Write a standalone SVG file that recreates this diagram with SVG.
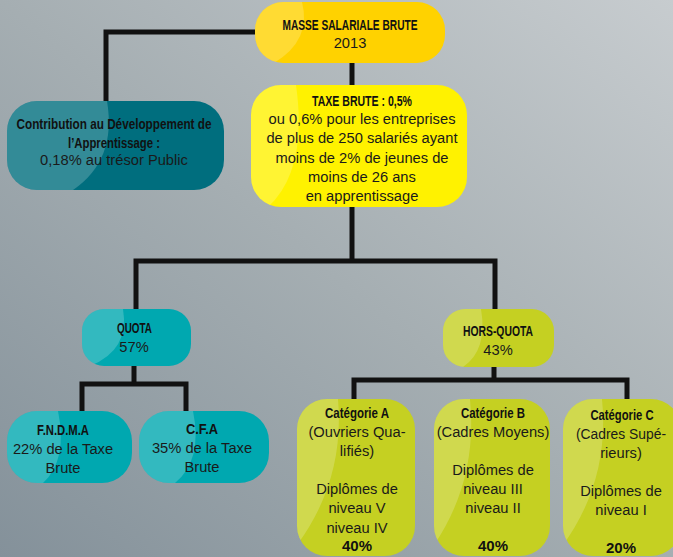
<svg xmlns="http://www.w3.org/2000/svg" width="673" height="557" viewBox="0 0 673 557">
<defs>
<linearGradient id="bg" x1="1" y1="0" x2="0" y2="1">
<stop offset="0" stop-color="#c7cccf"/>
<stop offset="0.5" stop-color="#a5aeb2"/>
<stop offset="1" stop-color="#84919a"/>
</linearGradient>
<clipPath id="cMasse"><rect x="255" y="2" width="190" height="61" rx="28"/></clipPath>
<clipPath id="cTaxe"><rect x="251" y="85" width="216" height="122" rx="30"/></clipPath>
<clipPath id="cCda"><rect x="7" y="101" width="217" height="89" rx="30"/></clipPath>
<clipPath id="cQuota"><rect x="82" y="309" width="109" height="57" rx="22"/></clipPath>
<clipPath id="cHors"><rect x="443" y="309" width="111" height="58" rx="22"/></clipPath>
<clipPath id="cFnd"><rect x="7" y="411" width="125" height="72" rx="30"/></clipPath>
<clipPath id="cCfa"><rect x="139" y="411" width="130" height="72" rx="30"/></clipPath>
<clipPath id="cA"><rect x="297" y="399" width="118" height="157" rx="30"/></clipPath>
<clipPath id="cB"><rect x="434" y="399" width="116" height="157" rx="30"/></clipPath>
<clipPath id="cC"><rect x="563" y="399" width="118" height="157" rx="30"/></clipPath>
</defs>
<style>
.t{font-family:"Liberation Sans",Arial,sans-serif;font-size:14.7px;fill:#1a1a1a;text-anchor:middle}
.b{font-family:"Liberation Sans",Arial,sans-serif;font-size:15px;font-weight:bold;fill:#111;text-anchor:middle}
.hl{fill:#ffffff;fill-opacity:0.2}
.yo{fill:#ffd200}
.ye{fill:#fff200}
.dt{fill:#006e7e}
.tl{fill:#00a8b0}
.lm{fill:#c5d022}
.ln{fill:none;stroke:#111;stroke-width:5;stroke-linejoin:miter;stroke-linecap:butt}
</style>
<rect x="0" y="0" width="673" height="557" fill="url(#bg)"/>

<g id="connectors">
<path class="ln" d="M257,32 H106 V103"/>
<path class="ln" d="M352,61 V87"/>
<path class="ln" d="M352,205 V261"/>
<path class="ln" d="M136,311 V261 H495 V311"/>
<path class="ln" d="M134,364 V384"/>
<path class="ln" d="M82,413 V384 H186 V413"/>
<path class="ln" d="M494,365 V380"/>
<path class="ln" d="M354,401 V380 H627 V401"/>
</g>

<g id="masse">
<rect class="yo" x="255" y="2" width="190" height="61" rx="28"/>
<path class="hl" clip-path="url(#cMasse)" d="M255,2 H302 Q312,40 274,63 H255 Z"/>
<text class="b" x="350" y="29.5" textLength="135" lengthAdjust="spacingAndGlyphs">MASSE SALARIALE BRUTE</text>
<text class="t" x="350" y="48">2013</text>
</g>

<g id="taxe">
<rect class="ye" x="251" y="85" width="216" height="122" rx="30"/>
<path class="hl" clip-path="url(#cTaxe)" d="M251,85 H296 Q308,170 268,207 H251 Z"/>
<text class="b" x="362" y="105.5" textLength="100" lengthAdjust="spacingAndGlyphs">TAXE BRUTE : 0,5%</text>
<text class="t" x="362" y="124">ou 0,6% pour les entreprises</text>
<text class="t" x="362" y="143">de plus de 250 salariés ayant</text>
<text class="t" x="362" y="162.5">moins de 2% de jeunes de</text>
<text class="t" x="362" y="182">moins de 26 ans</text>
<text class="t" x="362" y="201">en apprentissage</text>
</g>

<g id="contribution">
<rect class="dt" x="7" y="101" width="217" height="89" rx="30"/>
<path class="hl" clip-path="url(#cCda)" d="M7,101 H107 Q117,160 73,190 H7 Z"/>
<text class="b" x="114" y="128.5" textLength="195" lengthAdjust="spacingAndGlyphs">Contribution au Développement de</text>
<text class="b" x="114" y="147.5" textLength="92" lengthAdjust="spacingAndGlyphs">l’Apprentissage :</text>
<text class="t" x="114" y="165">0,18% au trésor Public</text>
</g>

<g id="quota">
<rect class="tl" x="82" y="309" width="109" height="57" rx="22"/>
<path class="hl" clip-path="url(#cQuota)" d="M82,309 H123 Q130,350 90,366 H82 Z"/>
<text class="b" x="134.5" y="332.5" textLength="35" lengthAdjust="spacingAndGlyphs">QUOTA</text>
<text class="t" x="134" y="352">57%</text>
</g>

<g id="hors-quota">
<rect class="lm" x="443" y="309" width="111" height="58" rx="22"/>
<path class="hl" clip-path="url(#cHors)" d="M443,309 H481 Q488,350 463,367 H443 Z"/>
<text class="b" x="498" y="335.5" textLength="70" lengthAdjust="spacingAndGlyphs">HORS-QUOTA</text>
<text class="t" x="498" y="355">43%</text>
</g>

<g id="fndma">
<rect class="tl" x="7" y="411" width="125" height="72" rx="30"/>
<path class="hl" clip-path="url(#cFnd)" d="M7,411 H58 Q68,460 43,483 H7 Z"/>
<text class="b" x="63" y="434.5" textLength="52" lengthAdjust="spacingAndGlyphs">F.N.D.M.A</text>
<text class="t" x="63" y="454">22% de la Taxe</text>
<text class="t" x="63" y="472.5">Brute</text>
</g>

<g id="cfa">
<rect class="tl" x="139" y="411" width="130" height="72" rx="30"/>
<path class="hl" clip-path="url(#cCfa)" d="M139,411 H193 Q203,460 175,483 H139 Z"/>
<text class="b" x="202" y="433.5" textLength="32" lengthAdjust="spacingAndGlyphs">C.F.A</text>
<text class="t" x="202" y="453">35% de la Taxe</text>
<text class="t" x="202" y="471.5">Brute</text>
</g>

<g id="categorie-a">
<rect class="lm" x="297" y="399" width="118" height="157" rx="30"/>
<path class="hl" clip-path="url(#cA)" d="M297,399 H338 Q345,480 297,545 Z"/>
<text class="b" x="357" y="418" textLength="64" lengthAdjust="spacingAndGlyphs">Catégorie A</text>
<text class="t" x="357" y="437">(Ouvriers Qua-</text>
<text class="t" x="357" y="456">lifiés)</text>
<text class="t" x="357" y="494">Diplômes de</text>
<text class="t" x="357" y="513">niveau V</text>
<text class="t" x="357" y="532.5">niveau IV</text>
<text class="b" x="357" y="551">40%</text>
</g>

<g id="categorie-b">
<rect class="lm" x="434" y="399" width="116" height="157" rx="30"/>
<path class="hl" clip-path="url(#cB)" d="M434,399 H470 Q478,480 434,545 Z"/>
<text class="b" x="493" y="418" textLength="64" lengthAdjust="spacingAndGlyphs">Catégorie B</text>
<text class="t" x="493" y="437">(Cadres Moyens)</text>
<text class="t" x="493" y="475">Diplômes de</text>
<text class="t" x="493" y="494">niveau III</text>
<text class="t" x="493" y="513">niveau II</text>
<text class="b" x="493" y="551">40%</text>
</g>

<g id="categorie-c">
<rect class="lm" x="563" y="399" width="118" height="157" rx="30"/>
<path class="hl" clip-path="url(#cC)" d="M563,399 H602 Q610,480 563,545 Z"/>
<text class="b" x="622" y="420" textLength="63" lengthAdjust="spacingAndGlyphs">Catégorie C</text>
<text class="t" x="621" y="439" textLength="90" lengthAdjust="spacingAndGlyphs">(Cadres Supé-</text>
<text class="t" x="621" y="458">rieurs)</text>
<text class="t" x="621" y="496">Diplômes de</text>
<text class="t" x="621" y="515">niveau I</text>
<text class="b" x="621" y="553">20%</text>
</g>
</svg>
